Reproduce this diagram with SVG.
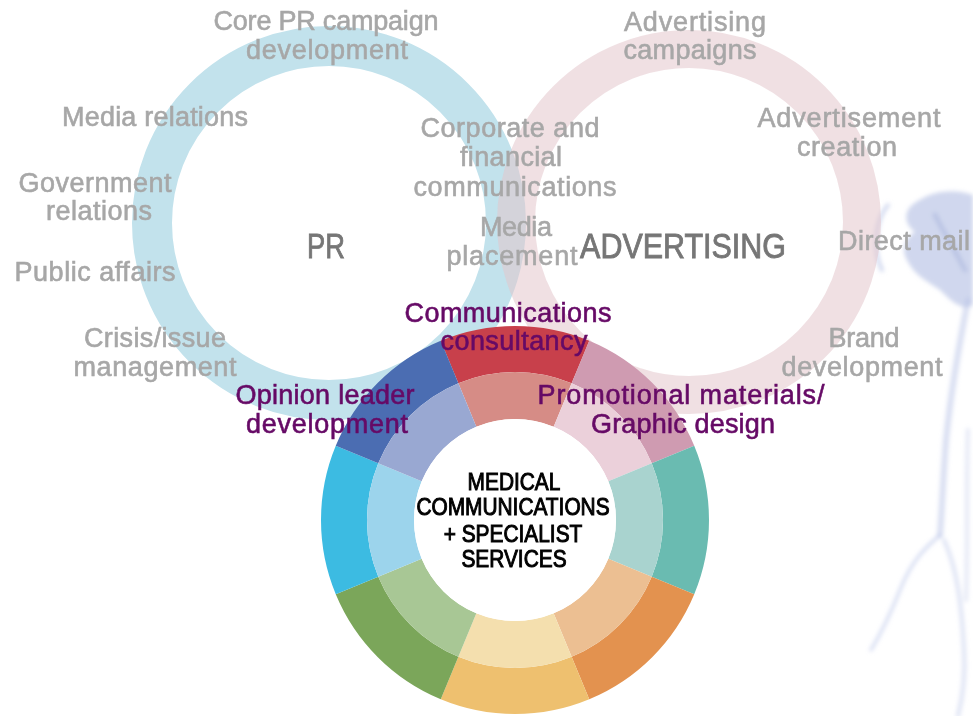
<svg xmlns="http://www.w3.org/2000/svg" width="973" height="716" viewBox="0 0 973 716">
<defs>
<style>
.g{font-family:"Liberation Sans",Arial,sans-serif;font-size:27px;fill:#a7a7a7;stroke:#a7a7a7;stroke-width:0.6;text-anchor:middle}
.p{font-family:"Liberation Sans",Arial,sans-serif;font-size:27px;fill:#660a66;stroke:#660a66;stroke-width:0.6;text-anchor:middle}
.big{font-family:"Liberation Sans",Arial,sans-serif;font-size:35px;fill:#767676;stroke:#767676;stroke-width:0.9;text-anchor:middle}
.c{font-family:"Liberation Sans",Arial,sans-serif;font-size:24px;fill:#000;stroke:#000;stroke-width:1;text-anchor:middle}
</style>
<path id="segOut" d="M440.76,340.77 A194,194 0 0 1 589.24,340.77 L571.64,383.27 A148,148 0 0 0 458.36,383.27 Z"/>
<path id="segIn" d="M458.36,383.27 A148,148 0 0 1 571.64,383.27 L553.65,426.69 A101,101 0 0 0 476.35,426.69 Z"/>
<filter id="blur" x="-20%" y="-20%" width="140%" height="140%"><feGaussianBlur stdDeviation="2"/></filter>
</defs>
<rect width="973" height="716" fill="#fff"/>
<g id="background-texture" filter="url(#blur)" fill="none" stroke-linecap="round">
<path d="M912,205 C930,190 955,188 973,195 L973,305 C962,312 950,300 940,290 C925,280 915,275 908,262 C900,250 905,238 915,232 C905,225 903,213 912,205 Z" fill="#aab6e0" opacity="0.55"/>
<path d="M935,215 C945,235 955,250 965,270" stroke="#9aa8d8" stroke-width="5" opacity="0.4"/>
<path d="M888,205 C875,220 872,250 882,270" stroke="#b6c1e6" stroke-width="4" opacity="0.6"/>
<path d="M968,300 C958,350 950,400 946,440 C943,480 942,510 940,535" stroke="#b9c4e8" stroke-width="6" opacity="0.55"/>
<path d="M940,535 C925,548 912,560 900,590 C890,615 880,635 871,650" stroke="#bcc6e9" stroke-width="3" opacity="0.65"/>
<path d="M944,540 C958,570 962,610 964,650 C966,680 962,700 958,716" stroke="#c3cceb" stroke-width="4" opacity="0.55"/>
<path d="M968,430 C966,480 968,540 966,600" stroke="#c6ceec" stroke-width="4" opacity="0.45"/>
</g>
<g id="pr-ring"><circle cx="329" cy="223" r="177" fill="none" stroke="#c2e2ec" stroke-width="40"/></g>
<g id="advertising-ring"><circle cx="689" cy="222" r="173" fill="none" stroke="rgb(227,198,203)" stroke-opacity="0.54" stroke-width="38"/></g>
<g id="medical-wheel">
<use href="#segOut" fill="#c8404b"/>
<use href="#segIn" fill="#d68c86"/>
<use href="#segOut" fill="#cf9bb1" transform="rotate(45 515 520)"/>
<use href="#segIn" fill="#ebd0da" transform="rotate(45 515 520)"/>
<use href="#segOut" fill="#6abbb1" transform="rotate(90 515 520)"/>
<use href="#segIn" fill="#a9d3cf" transform="rotate(90 515 520)"/>
<use href="#segOut" fill="#e3924f" transform="rotate(135 515 520)"/>
<use href="#segIn" fill="#ecbf92" transform="rotate(135 515 520)"/>
<use href="#segOut" fill="#eec06f" transform="rotate(180 515 520)"/>
<use href="#segIn" fill="#f4dfae" transform="rotate(180 515 520)"/>
<use href="#segOut" fill="#7ba65a" transform="rotate(225 515 520)"/>
<use href="#segIn" fill="#a8c795" transform="rotate(225 515 520)"/>
<use href="#segOut" fill="#3cbbe2" transform="rotate(270 515 520)"/>
<use href="#segIn" fill="#9cd4ec" transform="rotate(270 515 520)"/>
<use href="#segOut" fill="#4b6db2" transform="rotate(315 515 520)"/>
<use href="#segIn" fill="#99a8d2" transform="rotate(315 515 520)"/>
<circle cx="515" cy="520" r="101" fill="#fff"/>
</g>
<g id="pr-labels">
<text class="big" transform="translate(326 258) scale(0.78 1)">PR</text>
<text class="g" x="326" y="30" textLength="225">Core PR campaign</text>
<text class="g" x="327" y="59" textLength="162">development</text>
<text class="g" x="155" y="126" textLength="186">Media relations</text>
<text class="g" x="95" y="192" textLength="153">Government</text>
<text class="g" x="99" y="220" textLength="106">relations</text>
<text class="g" x="95" y="281" textLength="161">Public affairs</text>
<text class="g" x="155" y="347" textLength="142">Crisis/issue</text>
<text class="g" x="155" y="376" textLength="163">management</text>
</g>
<g id="shared-labels">
<text class="g" x="510" y="137" textLength="179">Corporate and</text>
<text class="g" x="511" y="166" textLength="102">financial</text>
<text class="g" x="515" y="196" textLength="203">communications</text>
<text class="g" x="516" y="236" textLength="72">Media</text>
<text class="g" x="512" y="265" textLength="131">placement</text>
</g>
<g id="advertising-labels">
<text class="big" transform="translate(683 258) scale(0.87 1)">ADVERTISING</text>
<text class="g" x="695" y="31" textLength="142">Advertising</text>
<text class="g" x="690" y="59" textLength="133">campaigns</text>
<text class="g" x="849" y="127" textLength="183">Advertisement</text>
<text class="g" x="847" y="156" textLength="100">creation</text>
<text class="g" x="904" y="250" textLength="132">Direct mail</text>
<text class="g" x="864" y="347" textLength="71">Brand</text>
<text class="g" x="862" y="376" textLength="161">development</text>
</g>
<g id="service-labels">
<text class="p" x="508" y="322" textLength="207">Communications</text>
<text class="p" x="514" y="350" textLength="147">consultancy</text>
<text class="p" x="325" y="404" textLength="179">Opinion leader</text>
<text class="p" x="327" y="433" textLength="162">development</text>
<text class="p" x="681" y="404" textLength="287">Promotional materials/</text>
<text class="p" x="683" y="433" textLength="184">Graphic design</text>
</g>
<g id="center-label">
<text class="c" transform="translate(514 490) scale(0.87 1)">MEDICAL</text>
<text class="c" transform="translate(513 515) scale(0.87 1)">COMMUNICATIONS</text>
<text class="c" transform="translate(513 542) scale(0.87 1)">+ SPECIALIST</text>
<text class="c" transform="translate(514 567) scale(0.87 1)">SERVICES</text>
</g>
</svg>
